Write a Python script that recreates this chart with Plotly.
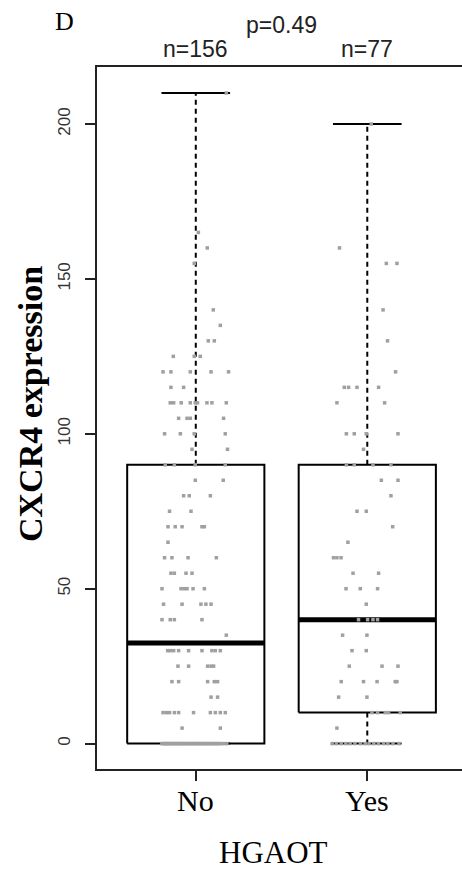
import numpy as np
import plotly.graph_objects as go

# ---------------- data ----------------
categories = ["No", "Yes"]
n_labels = ["n=156", "n=77"]
p_label = "p=0.49"
y_tick_vals = [0, 50, 100, 150, 200]
y_tick_text = ["0", "50", "100", "150", "200"]
x_title = "HGAOT"
y_title = "CXCR4 expression"
panel_label = "D"

no_values = [
    210,
    165, 160, 155, 140, 135,
    130, 130,
    125, 125, 125,
    120, 120, 120, 120, 120,
    115, 115,
    110, 110, 110, 110, 110, 110, 110, 110, 110,
    105, 105, 105, 105,
    100, 100, 100, 100,
    95, 95,
    90, 90, 90, 90,
    85, 85,
    80, 80, 80,
    75, 75,
    70, 70, 70, 70, 70,
    65,
    60, 60, 60, 60,
    55, 55, 55, 55,
    50, 50, 50, 50, 50, 50,
    45, 45, 45, 45, 45,
    40, 40, 40, 40,
    35,
    30, 30, 30, 30, 30, 30, 30, 30, 30,
    25, 25, 25, 25, 25,
    20, 20, 20, 20, 20,
    15, 15,
    10, 10, 10, 10, 10, 10, 10, 10, 10, 10,
    5, 5,
    0, 0, 0, 0, 0, 0, 0, 0, 0, 0,
    0, 0, 0, 0, 0, 0, 0, 0, 0, 0,
    0, 0, 0, 0, 0, 0, 0, 0, 0, 0,
    0, 0, 0, 0, 0, 0, 0, 0, 0, 0,
    0, 0, 0, 0, 0,
]
no_jitter = [
    0.178,
    0.015, 0.067, -0.009, 0.102, 0.143,
    0.073, 0.108,
    -0.131, -0.009, 0.026,
    -0.191, -0.145, -0.032, 0.089, 0.191,
    -0.145, -0.071,
    -0.149, -0.129, -0.085, -0.032, -0.003, 0.010, 0.065, 0.094, 0.178,
    -0.100, -0.051, -0.032, 0.162,
    -0.182, -0.090, -0.009, 0.172,
    -0.022, 0.185,
    -0.178, -0.125, -0.003, 0.172,
    -0.003, 0.160,
    -0.071, -0.038, 0.085,
    -0.153, -0.028,
    -0.162, -0.120, -0.080, 0.036, 0.050,
    -0.162,
    -0.182, -0.139, -0.045, 0.120,
    -0.145, -0.125, -0.057, -0.022,
    -0.197, -0.086, -0.067, -0.051, -0.016, 0.050,
    -0.188, -0.080, 0.030, 0.059, 0.089,
    -0.197, -0.149, -0.125, 0.036,
    0.178,
    -0.164, -0.149, -0.129, -0.100, -0.042, 0.036, 0.094, 0.114, 0.143,
    -0.104, -0.042, 0.069, 0.089, 0.104,
    -0.139, -0.100, 0.069, 0.108, 0.127,
    0.089, 0.127,
    -0.191, -0.172, -0.153, -0.125, -0.100, -0.013, 0.085, 0.114, 0.143, 0.172,
    -0.080, 0.143,
    -0.198, -0.190, -0.183, -0.175, -0.171,
    -0.162, -0.155, -0.149, -0.140, -0.131,
    -0.124, -0.117, -0.108, -0.100, -0.093,
    -0.084, -0.077, -0.069, -0.060, -0.052,
    -0.045, -0.036, -0.027, -0.019, -0.011,
    -0.003, 0.006, 0.014, 0.023, 0.031,
    0.040, 0.048, 0.057, 0.065, 0.074,
    0.083, 0.091, 0.100, 0.109, 0.118,
    0.128, 0.137, 0.149, 0.163, 0.181,
]

yes_values = [
    200, 160, 155, 155, 140, 130, 120,
    115, 115, 115, 115,
    110, 110,
    100, 100, 100, 100,
    95,
    90, 90, 90, 90,
    85, 85,
    80,
    75, 75,
    70,
    65,
    60, 60, 60,
    55, 55,
    50, 50, 50,
    45,
    40, 40, 40, 40,
    35, 35,
    30, 30,
    25, 25, 25,
    20, 20, 20, 20, 20,
    15, 15,
    10, 10, 10, 10, 10,
    5,
    0, 0, 0, 0, 0, 0, 0, 0, 0, 0, 0, 0, 0, 0, 0,
]
yes_jitter = [
    0.023, -0.162, 0.111, 0.173, 0.092, 0.118, 0.165,
    -0.134, -0.109, -0.060, 0.066,
    -0.177, 0.101,
    -0.122, -0.076, -0.006, 0.179,
    -0.022,
    -0.122, -0.076, 0.033, 0.138,
    0.082, 0.179,
    0.138,
    -0.060, -0.006,
    0.148,
    -0.113,
    -0.197, -0.177, -0.153,
    -0.083, 0.066,
    -0.124, -0.041, 0.060,
    -0.006,
    -0.051, 0.002, 0.033, 0.060,
    -0.144, -0.002,
    -0.089, -0.006,
    -0.105, 0.086, 0.179,
    -0.152, -0.022, 0.057, 0.163, 0.173,
    -0.167, -0.002,
    0.027, 0.060, 0.105, 0.124, 0.192,
    -0.177,
    -0.205, -0.180, -0.152, -0.125, -0.100, -0.072, -0.040, -0.012,
    0.010, 0.038, 0.065, 0.095, 0.120, 0.150, 0.185,
]

groups = [(no_values, no_jitter), (yes_values, yes_jitter)]
for v, j in groups:
    assert len(v) == len(j)


# ---------------- statistics (R boxplot style) ----------------
def fivenum(v):
    x = np.sort(np.asarray(v, dtype=float))
    n = len(x)
    n4 = np.floor((n + 3) / 2) / 2
    d = np.array([1, n4, (n + 1) / 2, n + 1 - n4, n])
    lo = np.floor(d).astype(int) - 1
    hi = np.ceil(d).astype(int) - 1
    return 0.5 * (x[lo] + x[hi])


SERIF = "Liberation Serif"
SANS = "Liberation Sans"
BOX_HALF = 0.4
CAP_HALF = 0.2

fig = go.Figure()

for gi, (vals, jit) in enumerate(groups):
    pos = gi + 1
    arr = np.asarray(vals, dtype=float)
    _, q1, med, q3, _ = fivenum(arr)
    iqr = q3 - q1
    upper = arr[arr <= q3 + 1.5 * iqr].max()
    lower = arr[arr >= q1 - 1.5 * iqr].min()

    # box
    fig.add_trace(go.Scatter(
        x=[pos - BOX_HALF, pos + BOX_HALF, pos + BOX_HALF, pos - BOX_HALF, pos - BOX_HALF],
        y=[q1, q1, q3, q3, q1], mode="lines",
        line=dict(color="black", width=2), hoverinfo="skip", showlegend=False))
    # whiskers (dashed)
    for a, b in [(q3, upper), (q1, lower)]:
        if a != b:
            fig.add_trace(go.Scatter(
                x=[pos, pos], y=[a, b], mode="lines",
                line=dict(color="black", width=2, dash="5px,4px"),
                hoverinfo="skip", showlegend=False))
    # caps
    for c in [upper, lower]:
        fig.add_trace(go.Scatter(
            x=[pos - CAP_HALF, pos + CAP_HALF], y=[c, c], mode="lines",
            line=dict(color="black", width=2), hoverinfo="skip", showlegend=False))
    # median
    fig.add_trace(go.Scatter(
        x=[pos - BOX_HALF, pos + BOX_HALF], y=[med, med], mode="lines",
        line=dict(color="black", width=5), hoverinfo="skip", showlegend=False))

# jittered points on top
for gi, (vals, jit) in enumerate(groups):
    pos = gi + 1
    fig.add_trace(go.Scatter(
        x=[pos + j for j in jit], y=vals, mode="markers",
        marker=dict(symbol="square", size=3.5, color="#a0a0a0", line=dict(width=0)),
        name=categories[gi], showlegend=False))

W, H = 462, 870
ML, MR, MT, MB = 97, 0, 67, 101
PW, PH = W - ML - MR, H - MT - MB


def px_x(px):
    return (px - ML) / PW


def px_y(py):
    return (H - MB - py) / PH


annotations = [
    dict(text=panel_label, x=px_x(64), y=px_y(21), xref="paper", yref="paper",
         showarrow=False, xanchor="center", yanchor="middle",
         font=dict(family=SERIF, size=26, color="black")),
    dict(text=p_label, x=1.5, y=px_y(25), xref="x", yref="paper",
         showarrow=False, xanchor="center", yanchor="middle",
         font=dict(family=SANS, size=23, color="#222")),
    dict(text="<b>" + y_title + "</b>", x=px_x(30), y=px_y(404), xref="paper", yref="paper",
         showarrow=False, xanchor="center", yanchor="middle", textangle=-90,
         font=dict(family=SERIF, size=34, color="black")),
    dict(text=x_title, x=px_x(273), y=px_y(852), xref="paper", yref="paper",
         showarrow=False, xanchor="center", yanchor="middle",
         font=dict(family=SERIF, size=31, color="black")),
]
for gi, lab in enumerate(n_labels):
    annotations.append(dict(text=lab, x=gi + 1, y=px_y(49), xref="x", yref="paper",
                            showarrow=False, xanchor="center", yanchor="middle",
                            font=dict(family=SANS, size=23, color="#222")))
# category labels under the ticks
for gi, lab in enumerate(categories):
    annotations.append(dict(text=lab, x=gi + 1, y=px_y(800), xref="x", yref="paper",
                            showarrow=False, xanchor="center", yanchor="middle",
                            font=dict(family=SERIF, size=30, color="black")))

fig.update_layout(
    width=W, height=H,
    margin=dict(l=ML, r=MR, t=MT, b=MB, pad=0),
    paper_bgcolor="white", plot_bgcolor="white",
    showlegend=False,
    annotations=annotations,
    xaxis=dict(range=[0.424, 0.424 + PW / 171.5], tickmode="array", tickvals=[1, 2],
               ticktext=categories, showticklabels=False,
               ticks="outside", ticklen=10, tickwidth=2,
               tickcolor="#222", showline=True, mirror=True, linewidth=2,
               linecolor="#222", showgrid=False, zeroline=False),
    yaxis=dict(range=[-8.2, 218.4], tickmode="array", tickvals=y_tick_vals,
               ticktext=y_tick_text, tickangle=-90, ticks="outside", ticklen=10,
               tickwidth=2, tickcolor="#222", showline=True, mirror=False,
               linewidth=2, linecolor="#222", showgrid=False, zeroline=False,
               ticklabelstandoff=8,
               tickfont=dict(family=SANS, size=17, color="#333")),
)

fig.write_html("out.html")
